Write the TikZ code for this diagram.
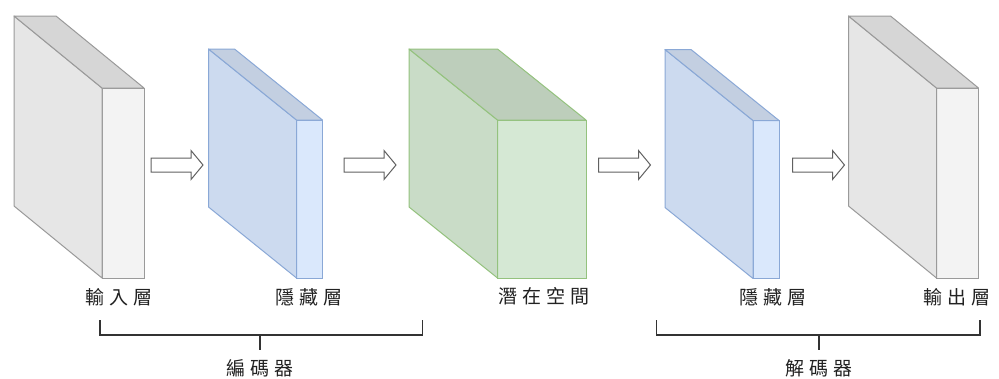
\documentclass[tikz,border=0pt]{standalone}
\usepackage{fontspec}
\newfontfamily\cjk{Noto Sans CJK TC}
\definecolor{grayS}{HTML}{9A9A9A}
\definecolor{grayF}{HTML}{F3F3F3}
\definecolor{grayL}{HTML}{E6E6E6}
\definecolor{grayT}{HTML}{D6D6D6}
\definecolor{blueS}{HTML}{8AA8D6}
\definecolor{blueF}{HTML}{DAE8FC}
\definecolor{blueL}{HTML}{CCDAEF}
\definecolor{blueT}{HTML}{C3CFE1}
\definecolor{greenS}{HTML}{94C27E}
\definecolor{greenF}{HTML}{D5E8D4}
\definecolor{greenL}{HTML}{C9DCC7}
\definecolor{greenT}{HTML}{BDCEBB}
\definecolor{txt}{HTML}{222222}
\newcommand{\mySlab}[8]{%
  % #1 name, #2 x, #3 y (front top-left), #4 w, #5 h, #6 dx, #7 dy, #8 colour prefix
  \node[face, fill=#8F, draw=#8S, minimum width=#4pt, minimum height=#5pt, anchor=north west] (#1) at (#2,#3) {};
  \draw[facel, fill=#8L, draw=#8S] (#1.north west) -- ++(-#6,-#7) -- ++(0,#5) -- (#1.south west) -- cycle;
  \draw[facel, fill=#8T, draw=#8S] (#1.north west) -- ++(-#6,-#7) -- ++(#4,0) -- (#1.north east) -- cycle;
}
\newcommand{\myArrow}[2]{%
  \draw[blockarrow] (#1,#2-7) -- ++(40,0) -- ++(0,-7.5) -- ++(12,14.5) -- ++(-12,14.5) -- ++(0,-7.5) -- ++(-40,0) -- cycle;
}
\def\ls{\kern5pt}
\begin{document}
\begin{tikzpicture}[x=1pt,y=-1pt,
  face/.style={rectangle, inner sep=0pt, outer sep=0pt, line width=1pt},
  facel/.style={line width=1pt, line join=round},
  blockarrow/.style={draw=black!62, fill=white, line width=1pt, line join=miter},
  lbl/.style={inner sep=0pt, text=txt, font=\cjk\fontsize{19}{19}\selectfont},
  bracket/.style={draw=black!80, line width=1.5pt}]
\useasboundingbox (0,0) rectangle (999,378);
\fill[white] (0,0) rectangle (999,378);
% slabs
\mySlab{inp}{102}{88}{42}{190}{88}{72}{gray}
\mySlab{hidA}{296.5}{120}{26}{158}{88}{71}{blue}
\mySlab{lat}{497.5}{120}{88.5}{158}{88.5}{71}{green}
\mySlab{hidB}{753}{120.5}{26}{158}{88}{71}{blue}
\mySlab{outp}{936.5}{88}{42}{190}{88}{72}{gray}
% arrows
\myArrow{151}{165}
\myArrow{344}{165}
\myArrow{598.5}{165}
\myArrow{792.5}{165}
% labels
\node[lbl] (linp) at (119,297) {輸\ls 入\ls 層};
\node[lbl] (lhidA) at (309,297) {隱\ls 藏\ls 層};
\node[lbl] (llat) at (544,296) {潛\ls 在\ls 空\ls 間};
\node[lbl] (lhidB) at (773,297) {隱\ls 藏\ls 層};
\node[lbl] (loutp) at (957,297) {輸\ls 出\ls 層};
% brackets
\coordinate (encL) at (100,320);
\coordinate (encR) at (422.5,320);
\coordinate (encM) at (260,335);
\draw[bracket] (encL) |- (encR |- encM) -- (encR);
\node[lbl] (enc) at (260,368) {編\ls 碼\ls 器};
\draw[bracket] (encM) -- (enc.north |- 0,350);
\coordinate (decL) at (656.5,320);
\coordinate (decR) at (980,320);
\coordinate (decM) at (819,335);
\draw[bracket] (decL) |- (decR |- decM) -- (decR);
\node[lbl] (dec) at (819,368) {解\ls 碼\ls 器};
\draw[bracket] (decM) -- (dec.north |- 0,350);
\end{tikzpicture}
\end{document}
